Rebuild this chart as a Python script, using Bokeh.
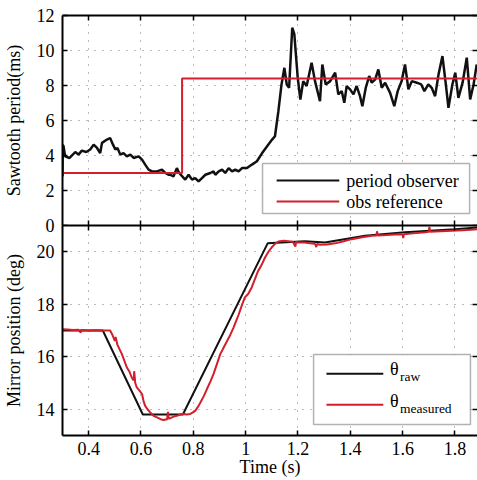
from bokeh.plotting import figure
from bokeh.layouts import column
from bokeh.models import (Range1d, FixedTicker, LinearAxis, BoxAnnotation, Label,
                          CustomJSTickFormatter)
from bokeh.embed import file_html
from bokeh.resources import INLINE

FONT = "Liberation Serif"
RED = "#d21f2b"
BLACK = "#111111"
GRID = "#777777"

# ---------------- data ----------------
x_ticks = [0.4, 0.6, 0.8, 1.0, 1.2, 1.4, 1.6, 1.8]
top_y_ticks = [0, 2, 4, 6, 8, 10, 12]
bot_y_ticks = [14, 16, 18, 20]

obs_t = [0.300, 0.301, 0.304, 0.310, 0.327, 0.349, 0.361, 0.374, 0.391, 0.406, 0.419,
         0.432, 0.444, 0.451, 0.470, 0.482, 0.493, 0.502, 0.510, 0.521, 0.533, 0.546,
         0.559, 0.572, 0.591, 0.604, 0.616, 0.629, 0.642, 0.661, 0.680, 0.693, 0.705,
         0.712, 0.724, 0.737, 0.746, 0.769, 0.782, 0.795, 0.807, 0.820, 0.833, 0.846,
         0.865, 0.877, 0.884, 0.897, 0.910, 0.922, 0.935, 0.948, 0.960, 0.973, 0.986,
         1.005, 1.024, 1.043, 1.063, 1.082, 1.101, 1.112, 1.125, 1.137, 1.148, 1.157,
         1.166, 1.178, 1.186, 1.199, 1.209, 1.220, 1.233, 1.252, 1.265, 1.284, 1.293,
         1.306, 1.323, 1.342, 1.354, 1.367, 1.377, 1.386, 1.399, 1.412, 1.424, 1.437,
         1.446, 1.459, 1.472, 1.482, 1.495, 1.507, 1.520, 1.533, 1.552, 1.568, 1.581,
         1.596, 1.609, 1.622, 1.635, 1.654, 1.671, 1.683, 1.698, 1.711, 1.724, 1.737,
         1.752, 1.765, 1.775, 1.790, 1.801, 1.813, 1.829, 1.845, 1.858, 1.871, 1.883]
obs_val = [2.80, 4.60, 4.53, 3.95, 3.86, 4.20, 4.05, 4.28, 4.20, 4.34, 4.62,
           4.43, 4.14, 4.72, 4.91, 5.00, 4.62, 4.34, 4.43, 4.05, 4.14, 3.95,
           4.05, 3.86, 3.95, 3.76, 3.48, 3.19, 3.09, 3.09, 3.19, 3.00, 2.90,
           2.90, 2.80, 3.28, 3.00, 2.62, 2.90, 2.62, 2.71, 2.52, 2.71, 2.90,
           3.00, 3.09, 2.90, 3.09, 3.19, 3.00, 3.28, 3.09, 3.19, 3.09, 3.28,
           3.28, 3.48, 3.67, 4.14, 4.53, 4.91, 5.10, 6.53, 8.06, 9.01, 8.06,
           7.87, 11.30, 10.93, 8.44, 7.20, 8.25, 7.97, 9.30, 8.25, 7.10, 9.20,
           8.06, 8.25, 8.73, 7.49, 7.68, 7.01, 7.97, 7.78, 7.49, 7.97, 7.39,
           6.82, 7.87, 8.54, 8.16, 8.35, 8.92, 7.87, 8.16, 7.58, 6.82, 7.68,
           8.25, 9.20, 7.78, 8.25, 8.16, 8.06, 7.68, 8.06, 7.87, 7.39, 8.63,
           9.68, 8.06, 6.72, 8.06, 8.73, 7.29, 8.16, 9.59, 7.20, 8.06, 9.20]

ref_t = [0.300, 0.757, 0.757, 1.886]
ref_val = [3.0, 3.0, 8.4, 8.4]

raw_t = [0.300, 0.454, 0.607, 0.760, 1.084, 1.136, 1.227, 1.303, 1.456, 1.609, 1.800, 1.886]
raw_val = [17.0, 17.0, 13.8, 13.8, 20.32, 20.35, 20.40, 20.35, 20.61, 20.74, 20.86, 20.93]

meas_t = [0.300, 0.320, 0.340, 0.360, 0.370, 0.372, 0.400, 0.430, 0.460, 0.482, 0.490,
          0.500, 0.503, 0.510, 0.527, 0.546, 0.555, 0.565, 0.572, 0.574, 0.578, 0.584,
          0.595, 0.604, 0.610, 0.616, 0.625, 0.635, 0.648, 0.661, 0.675, 0.686, 0.700,
          0.703, 0.706, 0.712, 0.725, 0.737, 0.750, 0.763, 0.775, 0.788, 0.797, 0.807,
          0.817, 0.827, 0.840, 0.852, 0.865, 0.877, 0.890, 0.903, 0.916, 0.929, 0.942,
          0.954, 0.963, 0.973, 0.985, 0.997, 1.010, 1.023, 1.035, 1.048, 1.061, 1.074,
          1.087, 1.099, 1.112, 1.125, 1.145, 1.163, 1.180, 1.190, 1.193, 1.201, 1.225,
          1.246, 1.265, 1.270, 1.273, 1.284, 1.310, 1.342, 1.375, 1.405, 1.445, 1.482,
          1.500, 1.502, 1.505, 1.540, 1.584, 1.600, 1.602, 1.605, 1.640, 1.686, 1.700,
          1.702, 1.705, 1.745, 1.788, 1.830, 1.860, 1.886]
meas_val = [17.05, 17.04, 17.02, 17.03, 16.92, 17.02, 17.00, 17.01, 17.00, 17.00, 16.85,
            16.60, 16.75, 16.45, 16.10, 15.59, 15.45, 15.20, 15.10, 15.45, 15.00, 14.83,
            14.70, 14.58, 14.30, 14.13, 14.00, 13.88, 13.75, 13.69, 13.62, 13.59, 13.62,
            13.90, 13.64, 13.66, 13.72, 13.75, 13.80, 13.82, 13.80, 13.82, 13.87, 13.94,
            14.08, 14.26, 14.50, 14.77, 15.05, 15.34, 15.72, 16.10, 16.35, 16.60, 16.85,
            17.12, 17.35, 17.60, 17.95, 18.26, 18.40, 18.64, 18.95, 19.28, 19.50, 19.78,
            20.00, 20.16, 20.30, 20.39, 20.42, 20.40, 20.38, 20.20, 20.38, 20.35, 20.35,
            20.32, 20.30, 20.18, 20.30, 20.27, 20.28, 20.32, 20.40, 20.48, 20.55, 20.61,
            20.62, 20.78, 20.62, 20.64, 20.67, 20.66, 20.52, 20.67, 20.70, 20.74, 20.76,
            20.95, 20.76, 20.78, 20.80, 20.82, 20.84, 20.86]

X_RANGE = (0.3, 1.886)
TOP_Y = (0, 12)
BOT_Y = (13, 21)
OVERLAP = 12   # px of the upper figure's bottom border that the lower figure sits on

fmt = CustomJSTickFormatter(code="var s = tick.toFixed(1); return s.replace(/\\.0$/, '');")
blank = CustomJSTickFormatter(code="return '';")


def frac(rng, f):
    return rng[0] + f * (rng[1] - rng[0])


def frame_axis(ticker, line):
    return LinearAxis(ticker=ticker, formatter=blank,
                      axis_line_color="black" if line else None, axis_line_width=2,
                      major_tick_in=5, major_tick_out=0, major_tick_line_width=1.5,
                      minor_tick_line_color=None, major_label_text_font_size="0px",
                      major_label_standoff=0)


def make_fig(height, yr, yticks, ylabel, border_top, border_bottom, show_x):
    p = figure(width=477, height=height, output_backend="svg", toolbar_location=None,
               x_range=Range1d(*X_RANGE), y_range=Range1d(*yr),
               x_axis_location=None, y_axis_location=None,
               min_border_left=62, min_border_right=0,
               min_border_top=border_top, min_border_bottom=border_bottom)
    p.outline_line_color = None
    p.background_fill_color = "white"
    p.border_fill_alpha = 0
    xt = FixedTicker(ticks=x_ticks)
    yt = FixedTicker(ticks=yticks)

    left = LinearAxis(ticker=yt, axis_label=ylabel)
    p.add_layout(left, "left")
    if show_x:
        below = LinearAxis(ticker=xt, formatter=fmt, axis_label="Time (s)")
        below.major_label_standoff = 6
        below.axis_label_standoff = -1
    else:
        below = frame_axis(xt, True)
    p.add_layout(below, "below")
    for ax in (left, below):
        ax.axis_line_width = 2
        ax.axis_line_color = "black"
        ax.major_tick_in = 5
        ax.major_tick_out = 0
        ax.major_tick_line_width = 1.5
        ax.minor_tick_line_color = None
        ax.axis_label_text_font = FONT
        ax.axis_label_text_font_size = "18px"
        ax.axis_label_text_font_style = "normal"
        ax.axis_label_text_color = "black"
    for ax in (left, below) if show_x else (left,):
        ax.major_label_text_font = FONT
        ax.major_label_text_font_size = "18px"
        ax.major_label_text_color = "black"
    left.major_label_standoff = 8
    left.axis_label_standoff = 10

    p.add_layout(frame_axis(xt, True), "above")
    p.add_layout(frame_axis(yt, False), "right")
    p.xgrid.ticker = xt
    p.ygrid.ticker = yt
    for g in (p.xgrid, p.ygrid):
        g.grid_line_color = GRID
        g.grid_line_dash = "1 7"
        g.grid_line_width = 1
    return p


# ---------------- top panel ----------------
p1 = make_fig(225 + OVERLAP, TOP_Y, top_y_ticks, "Sawtooth period(ms)", 15, OVERLAP, False)
p1.line(obs_t, obs_val, line_color=BLACK, line_width=2.5)
p1.line(ref_t, ref_val, line_color=RED, line_width=2)

p1.add_layout(BoxAnnotation(left=frac(X_RANGE, 0.482), right=frac(X_RANGE, 0.981),
                            bottom=frac(TOP_Y, 0.057), top=frac(TOP_Y, 0.295),
                            fill_color="white", fill_alpha=1, line_color="black",
                            line_width=1.5, level="annotation"))
lx = [frac(X_RANGE, 0.516), frac(X_RANGE, 0.667)]
for fy, col, txt in ((0.214, BLACK, "period observer"), (0.114, RED, "obs reference")):
    yy = frac(TOP_Y, fy)
    p1.line(lx, [yy, yy], line_color=col, line_width=2, level="overlay")
    p1.add_layout(Label(x=frac(X_RANGE, 0.684), y=yy, text=txt, text_font=FONT,
                        text_font_size="18px", text_baseline="middle", text_color="black",
                        level="overlay"))

# ---------------- bottom panel ----------------
p2 = make_fig(255, BOT_Y, bot_y_ticks, "Mirror position (deg)", 0, 45, True)
p2.styles = {"margin-top": f"-{OVERLAP}px"}
p2.line(raw_t, raw_val, line_color=BLACK, line_width=2)
p2.line(meas_t, meas_val, line_color=RED, line_width=2)

p2.add_layout(BoxAnnotation(left=frac(X_RANGE, 0.605), right=frac(X_RANGE, 0.983),
                            bottom=frac(BOT_Y, 0.052), top=frac(BOT_Y, 0.386),
                            fill_color="white", fill_alpha=1, line_color="black",
                            line_width=1.5, level="annotation"))
lx2 = [frac(X_RANGE, 0.636), frac(X_RANGE, 0.773)]
for fy, fth, fsub, col, sub in ((0.294, 0.319, 0.281, BLACK, "raw"),
                                (0.146, 0.162, 0.127, RED, "measured")):
    yy = frac(BOT_Y, fy)
    p2.line(lx2, [yy, yy], line_color=col, line_width=2, level="overlay")
    p2.add_layout(Label(x=frac(X_RANGE, 0.789), y=frac(BOT_Y, fth), text="θ", text_font=FONT,
                        text_font_size="18px", text_baseline="middle", text_color="black",
                        level="overlay"))
    p2.add_layout(Label(x=frac(X_RANGE, 0.813), y=frac(BOT_Y, fsub), text=sub, text_font=FONT,
                        text_font_size="13.5px", text_baseline="middle", text_color="black",
                        level="overlay"))

layout = column(p1, p2, spacing=0)
open("out.html", "w").write(file_html(layout, INLINE))
